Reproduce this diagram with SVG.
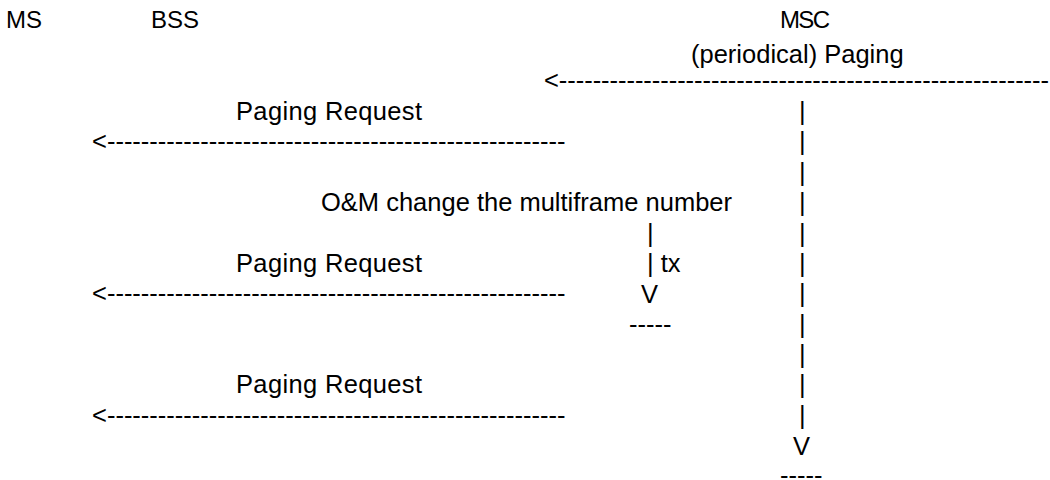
<svg xmlns="http://www.w3.org/2000/svg" width="1050" height="480" viewBox="0 0 1050 480">
<style>
text { font-family: "Liberation Sans", Arial, sans-serif; font-size: 25.5px; fill: #000; }
.hdr { font-size: 24px; }
</style>
<rect width="1050" height="480" fill="#fff"/>
<g id="nodes">
<g id="ms"><text class="hdr" x="6" y="28">MS</text></g>
<g id="bss"><text class="hdr" x="151" y="28">BSS</text></g>
<g id="msc"><text class="hdr" x="780" y="28" textLength="50">MSC</text></g>
<g id="note-o-m"><text x="321" y="211">O&amp;M change the multiframe number</text></g>
</g>
<g id="connectors">
<text x="691" y="63">(periodical) Paging</text>
<text x="544" y="89" textLength="505">&lt;----------------------------------------------------------</text>
<text x="236" y="120" textLength="186">Paging Request</text>
<text x="92" y="150">&lt;------------------------------------------------------</text>
<text x="236" y="272" textLength="186">Paging Request</text>
<text x="92" y="302">&lt;------------------------------------------------------</text>
<text x="236" y="393" textLength="186">Paging Request</text>
<text x="92" y="424">&lt;------------------------------------------------------</text>
<text x="647" y="242">|</text>
<text x="647" y="272">| tx</text>
<text x="641" y="303">V</text>
<text x="629" y="333">-----</text>
<text x="799" y="120">|</text>
<text x="799" y="150">|</text>
<text x="799" y="181">|</text>
<text x="799" y="211">|</text>
<text x="799" y="242">|</text>
<text x="799" y="272">|</text>
<text x="799" y="302">|</text>
<text x="799" y="333">|</text>
<text x="799" y="363">|</text>
<text x="799" y="393">|</text>
<text x="799" y="424">|</text>
<text x="793" y="455">V</text>
<text x="780" y="484">-----</text>
</g>
</svg>
